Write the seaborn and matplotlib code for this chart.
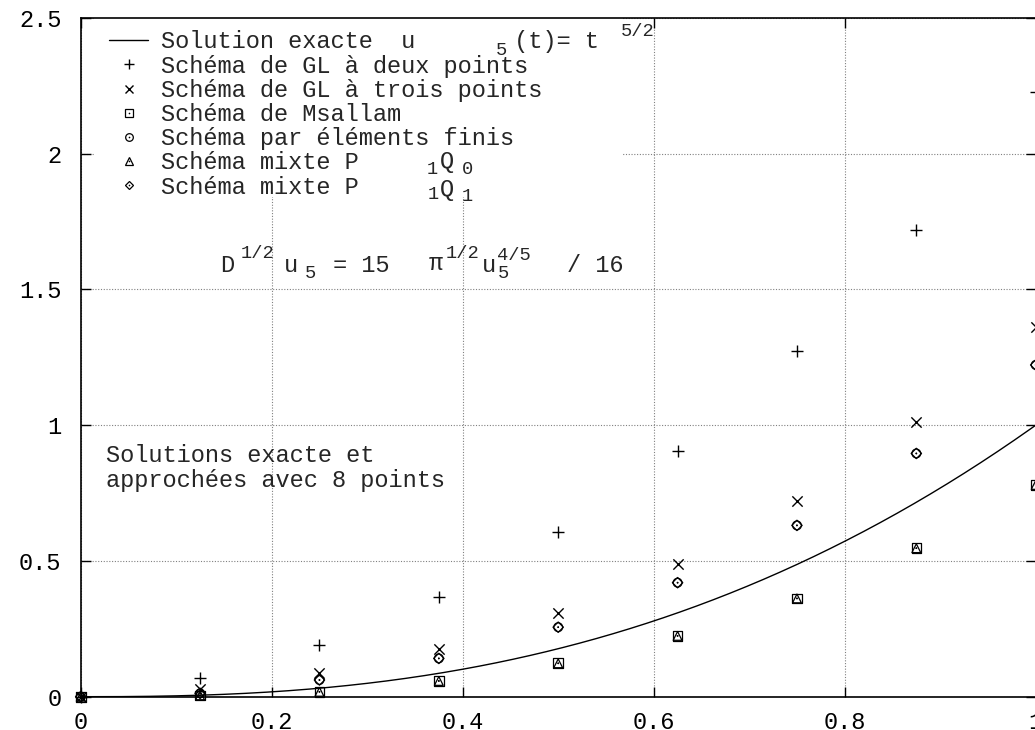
import numpy as np
import matplotlib
matplotlib.use("Agg")
import matplotlib.pyplot as plt
from matplotlib.lines import Line2D
from matplotlib.patches import Rectangle
from matplotlib.legend_handler import HandlerTuple
import seaborn as sns

# Nodes of the uniform grid (8 intervals on [0, 1])
t_nodes = [0.0, 0.125, 0.25, 0.375, 0.5, 0.625, 0.75, 0.875, 1.0]

# Approximate solutions at the nodes
u_gl_deux = [0.0, 0.070, 0.189, 0.366, 0.606, 0.906, 1.274, 1.718, 2.228]
u_gl_trois = [0.0, 0.027, 0.086, 0.176, 0.307, 0.489, 0.722, 1.011, 1.363]
u_msallam = [0.0, 0.005, 0.018, 0.058, 0.123, 0.224, 0.362, 0.547, 0.780]
u_elem_finis = [0.0, 0.0125, 0.0615, 0.141, 0.256, 0.420, 0.631, 0.896, 1.222]
u_p1q0 = [0.0, 0.005, 0.018, 0.058, 0.123, 0.224, 0.362, 0.547, 0.780]
u_p1q1 = [0.0, 0.0125, 0.0615, 0.141, 0.256, 0.420, 0.631, 0.896, 1.222]

x_ticks = [0.0, 0.2, 0.4, 0.6, 0.8, 1.0]
x_tick_labels = ["0", "0.2", "0.4", "0.6", "0.8", "1"]
y_ticks = [0.0, 0.5, 1.0, 1.5, 2.0, 2.5]
y_tick_labels = ["0", "0.5", "1", "1.5", "2", "2.5"]

legend_labels = [
    "Solution exacte  u       (t)= t",
    "Schéma de GL à deux points",
    "Schéma de GL à trois points",
    "Schéma de Msallam",
    "Schéma par éléments finis",
    "Schéma mixte P",
    "Schéma mixte P",
]

# Exact solution u5(t) = t^(5/2)
exact_power = 5 / 2
t_fine = np.linspace(0.0, 1.0, 401)
u_exact = t_fine ** exact_power

W, H = 1035, 730
FS = 17
FS_SMALL = 13.5

sns.set_style("ticks")
plt.rcParams["font.family"] = ["Liberation Mono", "DejaVu Sans Mono"]

fig = plt.figure(figsize=(W / 100, H / 100), dpi=100)
fig.patch.set_facecolor("white")
rect = [80.7 / W, (H - 696.7) / H, 955 / W, 678.7 / H]

# Background axes carrying only the dotted grid
ax_grid = fig.add_axes(rect)
ax = fig.add_axes(rect)
ax.patch.set_facecolor("none")

for a in (ax_grid, ax):
    a.set_xlim(0, 1)
    a.set_ylim(0, 2.5)
    a.set_xticks(x_ticks)
    a.set_yticks(y_ticks)

ax_grid.grid(True, color="#808080", linestyle=(0, (1, 1.5)), linewidth=0.8)
ax_grid.tick_params(length=0, labelbottom=False, labelleft=False)
for s in ax_grid.spines.values():
    s.set_visible(False)

ax.set_xticklabels(x_tick_labels)
ax.set_yticklabels(y_tick_labels)
ax.tick_params(direction="in", top=True, right=True, length=7, width=1.0,
               color="black", labelsize=FS, labelcolor="black")
ax.tick_params(axis="x", pad=10)
ax.tick_params(axis="y", pad=14)
for s in ax.spines.values():
    s.set_linewidth(1.2)
    s.set_color("black")

# Opaque key area hiding the grid behind the legend
ax.add_patch(Rectangle(((95 - 80.7) / 955, (696.7 - 197) / 678.7),
                       (622 - 95) / 955, 1.0, transform=ax.transAxes,
                       facecolor="white", edgecolor="none", zorder=1))

# Exact solution
sns.lineplot(x=t_fine, y=u_exact, color="black", linewidth=1.0, ax=ax,
             sort=False, estimator=None, legend=False, zorder=3)

# Approximate solutions
series = [
    (u_gl_deux, "+", 70, False),
    (u_gl_trois, "x", 55, False),
    (u_msallam, "s", 48, True),
    (u_elem_finis, "o", 40, True),
    (u_p1q0, "^", 40, True),
    (u_p1q1, "D", 28, True),
]
for vals, m, size, hollow in series:
    if hollow:
        sns.scatterplot(x=t_nodes, y=vals, marker=m, s=size, facecolor="none",
                        edgecolor="black", linewidth=0.9, ax=ax, legend=False,
                        zorder=4, clip_on=False)
        sns.scatterplot(x=t_nodes, y=vals, marker="o", s=1.5, color="black",
                        edgecolor="none", linewidth=0, ax=ax, legend=False,
                        zorder=5, clip_on=False)
    else:
        sns.scatterplot(x=t_nodes, y=vals, marker=m, s=size, color="black",
                        edgecolor="black", linewidth=1.0, ax=ax, legend=False,
                        zorder=4, clip_on=False)


def hollow_key(m, ms):
    return (Line2D([], [], ls="none", marker=m, ms=ms, mfc="none", mec="black", mew=0.9),
            Line2D([], [], ls="none", marker="o", ms=1.2, mfc="black", mec="none"))


handles = [
    Line2D([], [], color="black", lw=1.0),
    Line2D([], [], ls="none", marker="+", ms=6.5, mec="black", mew=1.0),
    Line2D([], [], ls="none", marker="x", ms=5.5, mec="black", mew=1.0),
    hollow_key("s", 5.5),
    hollow_key("o", 5.5),
    hollow_key("^", 6.0),
    hollow_key("D", 4.5),
]
leg = ax.legend(handles, legend_labels, loc="upper left",
                bbox_to_anchor=(0.030, 0.9817), frameon=False,
                prop={"size": FS}, handlelength=1.65, handletextpad=0.52,
                labelspacing=0.05, borderpad=0, borderaxespad=0, numpoints=1,
                handler_map={tuple: HandlerTuple(ndivide=1, pad=0)})
leg.set_zorder(6)
texts = leg.get_texts()


def key_extra(i, s, dx, dy, size):
    ax.annotate(s, xy=(0, 0.5), xycoords=texts[i], xytext=(dx, dy),
                textcoords="offset pixels", ha="left", va="center",
                fontsize=size, zorder=7, annotation_clip=False)


key_extra(0, "5", 335, -9, FS_SMALL)
key_extra(0, "5/2", 460, 10, FS_SMALL)
key_extra(5, "1", 266, -7, FS_SMALL)
key_extra(5, "Q", 279, 1, FS)
key_extra(5, "0", 301, -7, FS_SMALL)
key_extra(6, "1", 267, -7, FS_SMALL)
key_extra(6, "Q", 279, -2, FS)
key_extra(6, "1", 301, -9, FS_SMALL)


def px_text(s, x, y, size=FS):
    fig.text(x / W, 1 - y / H, s, ha="left", va="center", fontsize=size)


# Equation of the problem
px_text("D", 220, 265)
px_text("1/2", 241, 253, FS_SMALL)
px_text("u", 284, 265)
px_text("5", 305, 274, FS_SMALL)
px_text("= 15", 333, 265)
px_text("π", 429, 263)
px_text("1/2", 446, 253, FS_SMALL)
px_text("u", 482, 265)
px_text("4/5", 497, 255, FS_SMALL)
px_text("5", 498, 274, FS_SMALL)
px_text("/ 16", 567, 265)

px_text("Solutions exacte et", 106, 455)
px_text("approchées avec 8 points", 106, 480)

fig.canvas.draw()
fig.savefig("out.png", dpi=100, facecolor="white")
